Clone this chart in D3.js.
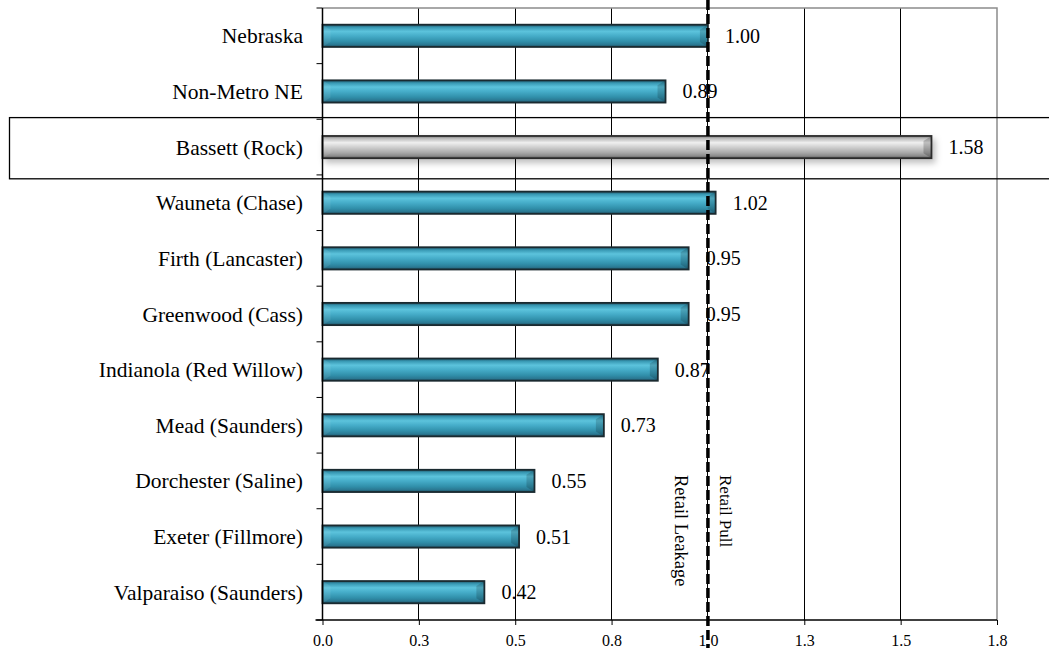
<!DOCTYPE html>
<html><head><meta charset="utf-8">
<script src="https://cdn.jsdelivr.net/npm/d3@7"></script>
<style>
html,body{margin:0;padding:0;background:#fff;}
svg{display:block;font-family:"Liberation Serif","Times New Roman",serif;}
</style></head>
<body>
<svg id="chart" width="1049" height="648"></svg>
<script>
const categories = ["Nebraska","Non-Metro NE","Bassett (Rock)","Wauneta (Chase)","Firth (Lancaster)","Greenwood (Cass)","Indianola (Red Willow)","Mead (Saunders)","Dorchester (Saline)","Exeter (Fillmore)","Valparaiso (Saunders)"];
const values = [1.00,0.89,1.58,1.02,0.95,0.95,0.87,0.73,0.55,0.51,0.42];
const highlighted = ["Bassett (Rock)"];
const xTicks = [0,0.25,0.5,0.75,1.0,1.25,1.5,1.75];
const referenceValue = 1.0;
const leftNote = "Retail Leakage";
const rightNote = "Retail Pull";

const svg = d3.select("#chart");
const W = 1049, H = 648;
const m = {left:322.5, right:997, top:8, bottom:620};

const x = d3.scaleLinear().domain([0,1.75]).range([m.left, m.right]);
const y = d3.scaleBand().domain(categories).range([m.top, m.bottom]).paddingInner(0.6).paddingOuter(0.3);

const defs = svg.append("defs");
function vgrad(id, stops){
  const g = defs.append("linearGradient").attr("id", id).attr("x1",0).attr("x2",0).attr("y1",0).attr("y2",1);
  stops.forEach(s => g.append("stop").attr("offset", s[0]).attr("stop-color", s[1]));
}
vgrad("teal", [[0,"#1f5466"],[0.12,"#3898b3"],[0.3,"#5cc3dc"],[0.5,"#46adc9"],[0.75,"#3190ab"],[0.9,"#2a7892"],[1,"#1d4655"]]);
vgrad("gray", [[0,"#7a7a7a"],[0.12,"#bdbdbd"],[0.3,"#efefef"],[0.5,"#d0d0d0"],[0.75,"#a9a9a9"],[0.9,"#8a8a8a"],[1,"#555"]]);
const f = defs.append("filter").attr("id","shadow").attr("x","-5%").attr("y","-50%").attr("width","110%").attr("height","220%");
f.append("feDropShadow").attr("dx",3).attr("dy",4).attr("stdDeviation",3).attr("flood-color","#000").attr("flood-opacity",0.25);

// gridlines
svg.append("g").selectAll("line").data(xTicks.filter(t => t>0 && t<1.75)).join("line")
  .attr("x1", d=>x(d)).attr("x2", d=>x(d)).attr("y1", m.top).attr("y2", m.bottom)
  .attr("stroke","#000").attr("stroke-width",1).attr("shape-rendering","crispEdges");

// plot border (top & right)
svg.append("path").attr("d", `M${m.left},${m.top}H${m.right}V${m.bottom}`)
  .attr("fill","none").attr("stroke","#8c8c8c").attr("stroke-width",1.5);

// highlight box
const hb = y("Bassett (Rock)");
svg.append("rect").attr("x",9.5).attr("y", hb - y.step()*0.33).attr("width", 1060)
  .attr("height", y.bandwidth() + y.step()*0.70)
  .attr("fill","none").attr("stroke","#000").attr("stroke-width",1.3);

// bars
const bars = svg.append("g");
categories.forEach((c,i) => {
  const v = values[i];
  const hi = highlighted.includes(c);
  const x0 = x(0), x1 = x(v), y0 = y(c), h = y.bandwidth(), y1 = y0 + h;
  const g = bars.append("g");
  if (hi) g.attr("filter","url(#shadow)");
  g.append("rect").attr("x", x0).attr("y", y0).attr("width", x1-x0).attr("height", h)
    .attr("fill", hi ? "url(#gray)" : "url(#teal)");
  const b = 8;
  g.append("path").attr("d", `M${x0},${y0}L${x0+b},${y0+5}L${x0+b},${y1-5}L${x0},${y1}Z`)
    .attr("fill", "#fff").attr("opacity", 0.08);
  g.append("path").attr("d", `M${x1},${y0}L${x1-b},${y0+5}L${x1-b},${y1-5}L${x1},${y1}Z`)
    .attr("fill", "#000").attr("opacity", hi ? 0.2 : 0.16);
  g.append("rect").attr("x", x0).attr("y", y0).attr("width", x1-x0).attr("height", h)
    .attr("fill","none").attr("stroke", hi ? "#2b2b2b" : "#1a2a30").attr("stroke-width",1.8);
});

// y axis
const ya = svg.append("g");
ya.append("line").attr("x1", m.left).attr("x2", m.left).attr("y1", m.top).attr("y2", m.bottom).attr("stroke","#000").attr("stroke-width",1.5);
const bounds = d3.range(categories.length+1).map(i => m.top + i*y.step());
ya.selectAll("line.t").data(bounds).join("line").attr("class","t")
  .attr("x1", m.left-6).attr("x2", m.left).attr("y1", d=>d).attr("y2", d=>d).attr("stroke","#000").attr("stroke-width",1);
ya.selectAll("text").data(categories).join("text")
  .attr("x", 303).attr("y", d => y(d) + y.bandwidth()/2).attr("dy","0.35em")
  .attr("text-anchor","end").attr("font-size", 21.5).attr("fill","#000").text(d=>d);

// x axis
const xa = svg.append("g").attr("transform", `translate(0,${m.bottom})`)
  .call(d3.axisBottom(x).tickValues(xTicks).tickFormat(d3.format(".1f")).tickSize(5).tickPadding(10));
xa.select(".domain").attr("stroke-width",1.5).attr("d", `M${m.left-7},0H${m.right}`);
xa.selectAll(".tick line").attr("stroke","#000");
xa.selectAll(".tick text").attr("font-size",16).attr("font-family","Liberation Serif, serif").attr("fill","#000");

// reference dashed line
svg.append("line").attr("x1", x(referenceValue)).attr("x2", x(referenceValue)).attr("y1", 0).attr("y2", H)
  .attr("stroke","#000").attr("stroke-width",3.5).attr("stroke-dasharray","10,4");

// value labels
svg.append("g").selectAll("text").data(values).join("text")
  .attr("x", d => x(d) + 17).attr("y", (d,i) => y(categories[i]) + y.bandwidth()/2).attr("dy","0.35em")
  .attr("font-size", 20).attr("fill","#000").text(d => d3.format(".2f")(d));

// notes
svg.append("text").attr("transform", `translate(${x(referenceValue)-33},475) rotate(90)`)
  .attr("font-size",18.5).attr("fill","#000").text(leftNote);
svg.append("text").attr("transform", `translate(${x(referenceValue)+12},475) rotate(90)`)
  .attr("font-size",17).attr("fill","#000").text(rightNote);
</script>
</body></html>
